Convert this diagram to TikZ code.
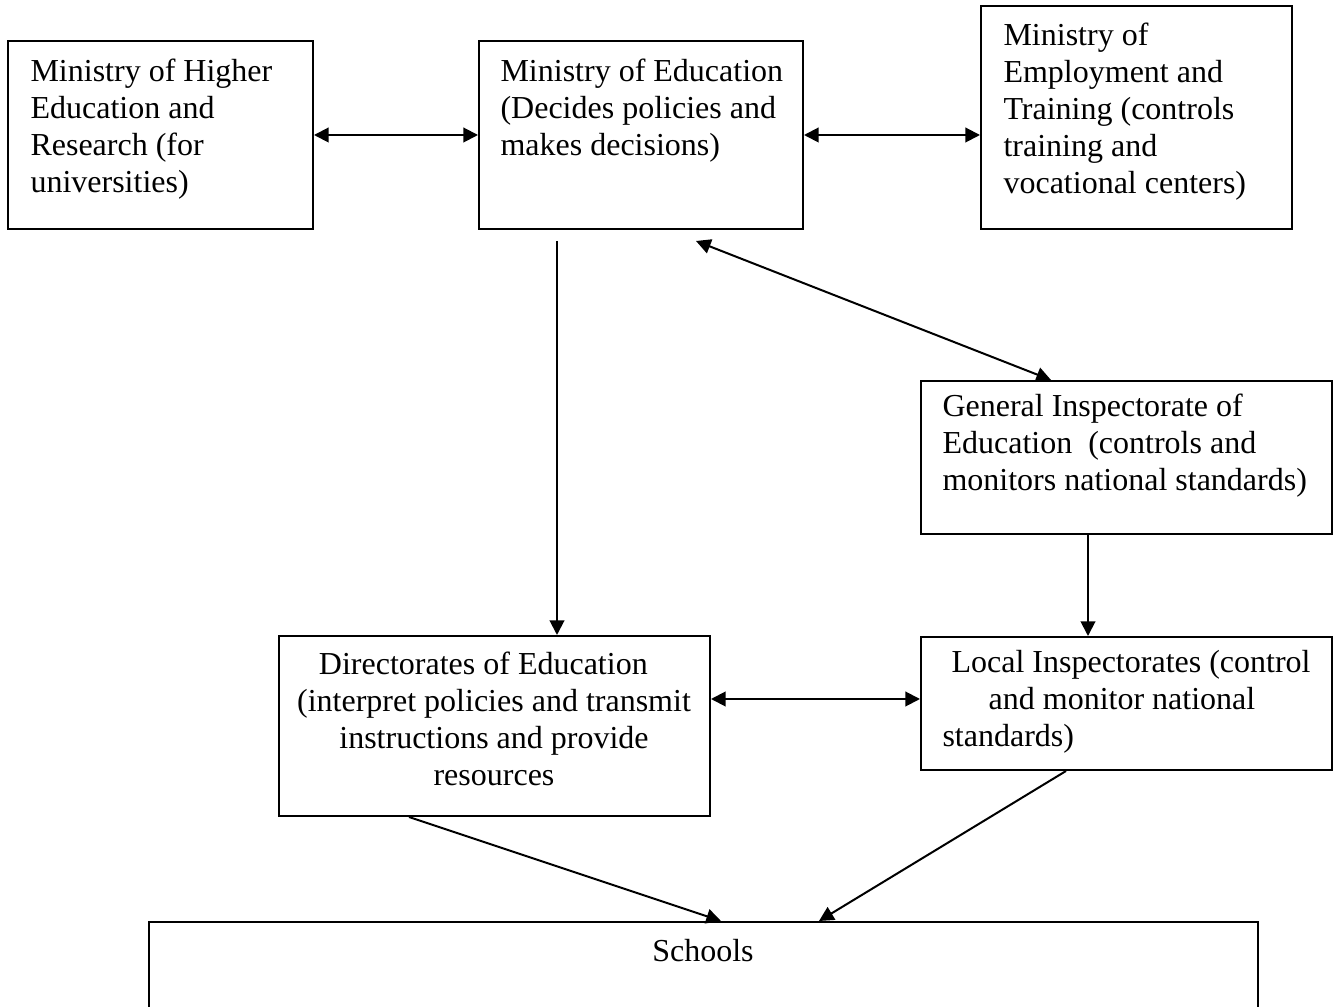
\documentclass[tikz,border=0pt]{standalone}
\usepackage{fontspec}
\setmainfont{Liberation Serif}
\usetikzlibrary{arrows.meta,fit,calc}
\begin{document}
\begin{tikzpicture}[x=0.375pt,y=-0.375pt,
  box/.style={draw,line width=0.75pt,inner sep=0pt,rectangle},
  % multi-line labels are placed by the baseline of their last line
  txt/.style={inner sep=0pt,anchor=base west,align=left,font=\fontsize{12pt}{13.875pt}\selectfont},
  link/.style={line width=0.75pt,-{Triangle[length=5.5pt,width=5.5pt]}},
  dlink/.style={line width=0.75pt,{Triangle[length=5.5pt,width=5.5pt]}-{Triangle[length=5.5pt,width=5.5pt]}}]
\useasboundingbox (0,0) rectangle (1336,1007);

% boxes
\node[box,fit={(8,41)(313,229)}] (mhe) {};
\node[box,fit={(479,41)(803,229)}] (moe) {};
\node[box,fit={(981,6)(1292,229)}] (emp) {};
\node[box,fit={(921,381)(1332,534)}] (gie) {};
\node[box,fit={(279,636)(710,816)}] (dir) {};
\node[box,fit={(921,637)(1332,770)}] (loc) {};
\node[box,fit={(149,922)(1258,1030)}] (sch) {};

% labels
\node[txt] (mhet) at (30,193) {Ministry of Higher\\Education and\\Research (for\\universities)};
\node[txt] (moet) at (500,156) {Ministry of Education\\(Decides policies and\\makes decisions)};
\node[txt] (empt) at (1003,194) {Ministry of\\Employment and\\Training (controls\\training and\\vocational centers)};
\node[txt] (giet) at (942,491) {General Inspectorate of\\Education\ \ (controls and\\monitors national standards)};
\node[txt] (loct) at (942,747) {\hspace*{3.4pt}Local Inspectorates (control\\\hspace*{17.3pt}and monitor national\\standards)};
\node[txt,anchor=base,align=center] (dirt) at (494,786) {Directorates of Education\hspace*{8pt}\\(interpret policies and transmit\\instructions and provide\\resources};
\node[txt,anchor=base] (scht) at (703,962) {Schools};

% connectors
\coordinate (moeS) at ($(moe.south west)+(79,11)$);
\coordinate (moeSE) at ($(moe.south west)+(218,11)$);
\coordinate (dl) at ($(dir.east)+(0,-27)$);

\draw[dlink] (mhe.east) -- (moe.west);
\draw[dlink] (moe.east) -- (moe.east -| emp.west);
\draw[link] (moeS) -- (moeS |- dir.north);
\draw[dlink] (moeSE) -- ($(gie.north west)+(131,0)$);
\draw[link] ($(gie.south west)+(168,0)$) -- ($(loc.north west)+(168,0)$);
\draw[dlink] (dl) -- (dl -| loc.west);
\draw[link] ($(dir.south west)+(131,0)$) -- ($(sch.north west)+(573,0)$);
\draw[link] ($(loc.south west)+(146,0)$) -- ($(sch.north west)+(671,0)$);
\end{tikzpicture}
\end{document}
